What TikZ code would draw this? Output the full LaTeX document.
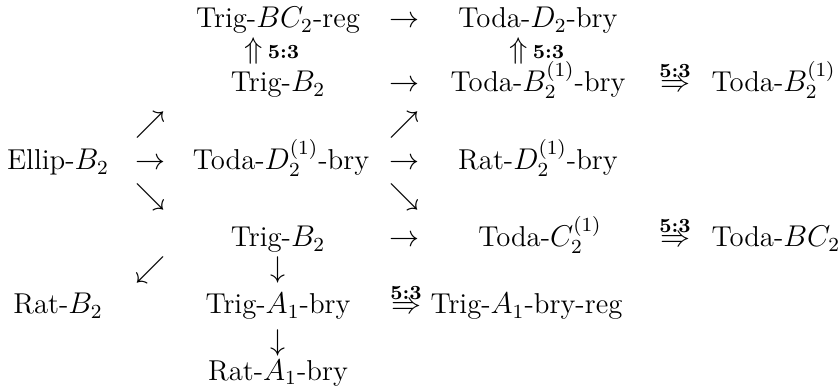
\documentclass[tikz,border=0pt]{standalone}
\begin{document}
\begin{tikzpicture}[x=0.4pt,y=-0.4pt,
  lbl/.style={anchor=base,inner sep=0pt,font=\fontsize{11.5}{13}\selectfont},
  lblw/.style={lbl,anchor=base west},
  ratio/.style={anchor=south,inner sep=0pt,yshift=0.9pt,font=\fontsize{8}{9}\bfseries},
  arr/.style={inner sep=0pt,font=\fontsize{11.5}{13}\selectfont}]
\useasboundingbox (0,0) rectangle (839,392);
% row 1
\node[lbl] (trigBCreg) at (278,28) {Trig-$BC_2$-reg};
\node[lbl] (a11) at (404,28) {$\rightarrow$};
\node[lbl] (todaD2) at (538,28) {Toda-$D_2$-bry};
% row 2
\node[lbl] (u1) at (272,59) {$\Uparrow$\,{\fontsize{8}{9}\bfseries 5:3}};
\node[lbl] (u2) at (537,59) {$\Uparrow$\,{\fontsize{8}{9}\bfseries 5:3}};
% row 3
\node[lbl] (trigB2a) at (278,92) {Trig-$B_2$};
\node[lbl] (a31) at (404,92) {$\rightarrow$};
\node[lbl] (todaB2bry) at (538,92) {Toda-$B_2^{(1)}$-bry};
\node[lbl] (d31) at (675,92) {$\Rightarrow$};
\node[ratio] (r31) at (d31.north) {5:3};
\node[lblw] (todaB2) at (711,92) {Toda-$B_2^{(1)}$};
% row 4
\node[arr] (ne1) at (150,125) {$\nearrow$};
\node[arr] (ne2) at (404,125) {$\nearrow$};
% row 5
\node[lbl] (ellip) at (58,170) {Ellip-$B_2$};
\node[lbl] (a51) at (150,170) {$\rightarrow$};
\node[lbl] (todaD2bry) at (281,170) {Toda-$D_2^{(1)}$-bry};
\node[lbl] (a52) at (404,170) {$\rightarrow$};
\node[lbl] (ratD2) at (538,170) {Rat-$D_2^{(1)}$-bry};
% row 6
\node[arr] (se1) at (150,197) {$\searrow$};
\node[arr] (se2) at (404,197) {$\searrow$};
% row 7
\node[lbl] (trigB2b) at (278,247) {Trig-$B_2$};
\node[lbl] (a71) at (404,247) {$\rightarrow$};
\node[lbl] (todaC2) at (540,247) {Toda-$C_2^{(1)}$};
\node[lbl] (d71) at (675,247) {$\Rightarrow$};
\node[ratio] (r71) at (d71.north) {5:3};
\node[lblw] (todaBC2) at (711,247) {Toda-$BC_2$};
% row 8
\node[arr] (sw1) at (150,270) {$\swarrow$};
\node[arr] (dn1) at (278,270) {$\downarrow$};
% row 9
\node[lbl] (ratB2) at (58,314) {Rat-$B_2$};
\node[lbl] (trigA1) at (278,314) {Trig-$A_1$-bry};
\node[lbl] (d91) at (406,314) {$\Rightarrow$};
\node[ratio] (r91) at (d91.north) {5:3};
\node[lblw] (trigA1reg) at (430,314) {Trig-$A_1$-bry-reg};
% row 10
\node[arr] (dn2) at (278,343) {$\downarrow$};
% row 11
\node[lbl] (ratA1) at (278,380) {Rat-$A_1$-bry};
\end{tikzpicture}
\end{document}
